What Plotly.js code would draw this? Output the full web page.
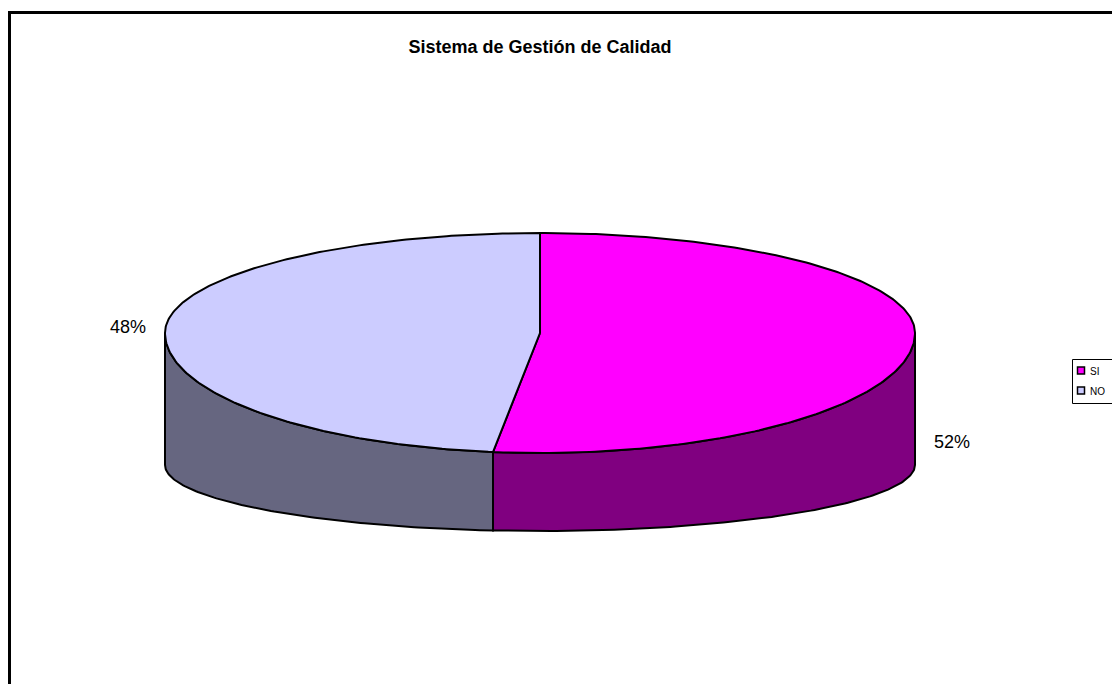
<!DOCTYPE html>
<html>
<head>
<meta charset="utf-8">
<script src="https://cdn.plot.ly/plotly-3.0.1.min.js"></script>
<style>html,body{margin:0;padding:0;background:#fff;}#chart{width:1112px;height:684px;}</style>
</head>
<body>
<div id="chart"></div>
<script>
// ---- data ----
var chartTitle = "Sistema de Gestión de Calidad";
var categories = ["SI", "NO"];
var values = [52, 48];
var topColors = ["#FF00FF", "#CCCCFF"];
var sideColors = ["#800080", "#666680"];

// ---- geometry of the pseudo-3D pie (in pixel-like axis units) ----
var cx = 540, cy = 333, rx = 375, ryBack = 100, ryFront = 120;
var cyBottom = 465, ryBottomFront = 66;
var total = values.reduce(function(a, b){ return a + b; }, 0);

function topPt(t) {
  var c = Math.cos(t);
  return [cx + rx * Math.sin(t), cy - (c >= 0 ? ryBack : ryFront) * c];
}
function botPt(t) {
  return [cx + rx * Math.sin(t), cyBottom - ryBottomFront * Math.cos(t)];
}
function arc(fn, a0, a1, n) {
  var pts = [];
  for (var i = 0; i <= n; i++) pts.push(fn(a0 + (a1 - a0) * i / n));
  return pts;
}

var sideTraces = [], topTraces = [];
var start = 0;
var mids = [];
values.forEach(function(v, i) {
  var a0 = start, a1 = start + v / total * 2 * Math.PI;
  start = a1;
  mids.push((a0 + a1) / 2);
  var s0 = Math.max(a0, Math.PI / 2), s1 = Math.min(a1, 3 * Math.PI / 2);
  if (s1 > s0) {
    var up = arc(topPt, s0, s1, 120), dn = arc(botPt, s1, s0, 120);
    var pts = up.concat(dn); pts.push(up[0]);
    sideTraces.push({
      type: "scatter", mode: "lines", fill: "toself",
      x: pts.map(function(p){return p[0];}), y: pts.map(function(p){return p[1];}),
      fillcolor: sideColors[i], line: {color: "#000", width: 2},
      hoverinfo: "skip", showlegend: false
    });
  }
  var tp = [[cx, cy]].concat(arc(topPt, a0, a1, 240));
  tp.push([cx, cy]);
  topTraces.push({
    type: "scatter", mode: "lines", fill: "toself", name: categories[i],
    x: tp.map(function(p){return p[0];}), y: tp.map(function(p){return p[1];}),
    fillcolor: topColors[i], line: {color: "#000", width: 2},
    hoverinfo: "name", showlegend: false
  });
});
var traces = sideTraces.concat(topTraces);

// percentage labels
var annotations = [];
var labelDrop = [101, 0];
values.forEach(function(v, i) {
  var t = mids[i];
  var s = Math.sin(t);
  var p = topPt(t);
  annotations.push({
    x: cx + s * (rx + 38), y: p[1] + labelDrop[i], xref: "x", yref: "y",
    text: Math.round(v / total * 100) + "%", showarrow: false,
    xanchor: "center", yanchor: "middle",
    font: {family: "Arial, Liberation Sans, sans-serif", size: 18, color: "#000"}
  });
});

// frame and legend (drawn)
var shapes = [
  {type: "rect", xref: "x", yref: "y", x0: 9.5, y0: 12.5, x1: 1125, y1: 700,
   line: {color: "#000", width: 3}, fillcolor: "rgba(0,0,0,0)", layer: "above"},
  {type: "rect", xref: "x", yref: "y", x0: 1072.5, y0: 359.5, x1: 1125, y1: 403.5,
   line: {color: "#000", width: 1}, fillcolor: "#fff"}
];
categories.forEach(function(c, i) {
  var yc = 371 + i * 20;
  shapes.push({type: "rect", xref: "x", yref: "y", x0: 1077.5, y0: yc - 4, x1: 1084.5, y1: yc + 3,
    line: {color: "#000", width: 1.5}, fillcolor: topColors[i]});
  annotations.push({x: 1088, y: yc, xref: "x", yref: "y", text: c, showarrow: false,
    xanchor: "left", yanchor: "middle",
    font: {family: "Arial, Liberation Sans, sans-serif", size: 10, color: "#000"}});
});

var layout = {
  width: 1112, height: 684,
  margin: {l: 0, r: 0, t: 0, b: 0},
  paper_bgcolor: "#fff", plot_bgcolor: "#fff",
  title: {text: "<b>" + chartTitle + "</b>", x: 540 / 1112, xanchor: "center",
          y: 1 - 47 / 684, yanchor: "middle",
          font: {family: "Arial, Liberation Sans, sans-serif", size: 18, color: "#000"}},
  xaxis: {range: [0, 1112], visible: false, fixedrange: true},
  yaxis: {range: [684, 0], visible: false, fixedrange: true},
  showlegend: false,
  shapes: shapes,
  annotations: annotations
};
Plotly.newPlot("chart", traces, layout, {displayModeBar: false, staticPlot: true});
</script>
</body>
</html>
